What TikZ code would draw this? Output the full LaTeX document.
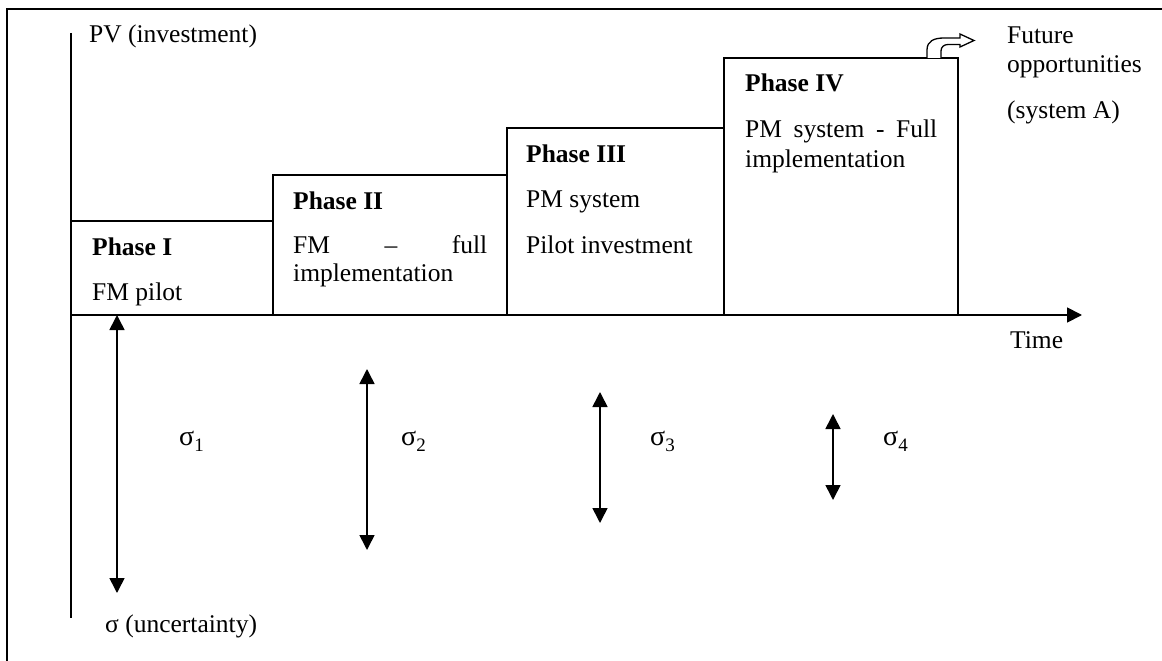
\documentclass[tikz,border=0pt]{standalone}
\usepackage{fontspec}
\setmainfont{Liberation Serif}
\usetikzlibrary{arrows.meta}
% sigma with a lowered index
\newcommand{\sigmalabel}[1]{σ\raisebox{-0.22em}{\fontsize{19}{19}\selectfont #1}}
\begin{document}
\begin{tikzpicture}[x=1pt,y=-1pt,
  txt/.style={anchor=base west, inner sep=0pt, font=\fontsize{25.5}{30}\selectfont},
  ttl/.style={anchor=base west, inner sep=0pt, font=\fontsize{25.5}{30}\selectfont\bfseries},
  sig/.style={anchor=base west, inner sep=0pt, font=\fontsize{28}{30}\selectfont},
  boxline/.style={draw, line width=1.8pt},
  axisline/.style={line width=1.8pt},
  sigarrow/.style={line width=1.6pt, {Triangle[length=15pt,width=15pt]}-{Triangle[length=15pt,width=15pt]}},
  timearrow/.style={line width=1.8pt, -{Triangle[length=15pt,width=15pt]}}
]
\useasboundingbox (0,0) rectangle (1162,661);

% outer frame (left and top edges)
\draw[line width=2pt] (7,661) -- (7,9) -- (988,9);
\draw[line width=1.2pt] (988,9) -- (1162,9);

% phase boxes, stepping upward
\draw[boxline] (71,315) rectangle (273,221);
\draw[boxline] (273,315) rectangle (507,175);
\draw[boxline] (507,315) rectangle (724,128);
\draw[boxline] (724,315) rectangle (958,58);

% axes
\coordinate (ytop) at (71,33);
\coordinate (ybot) at (71,618);
\coordinate (orig) at (71,315);
\coordinate (tend) at (1082,315);
\draw[axisline] (ytop) -- (ybot);
\draw[timearrow] (orig) -- (tend);

% axis labels
\node[txt] (pv) at (89,43) {PV (investment)};
\node[txt] (time) at (1010,348) {Time};
\node[txt] (unc) at (105,632) {σ (uncertainty)};

% phase texts
\node[ttl] (t1) at (92,255) {Phase I};
\node[txt] (d1) at (92,300) {FM pilot};

\node[ttl] (t2) at (293,209) {Phase II};
\node[txt] (d2a) at (293,253) {\makebox[194pt][s]{FM\hfill–\hfill full}};
\node[txt] (d2b) at (293,281) {implementation};

\node[ttl] (t3) at (526,162) {Phase III};
\node[txt] (d3a) at (526,207) {PM system};
\node[txt] (d3b) at (526,253) {Pilot investment};

\node[ttl] (t4) at (745,92) {Phase IV};
\node[txt] (d4a) at (745,137) {\makebox[192pt][s]{PM\hfill system\hfill -\hfill Full}};
\node[txt] (d4b) at (745,167) {implementation};

% future opportunities with its bent block arrow
\node[txt] (f1) at (1007,44) {Future};
\node[txt] (f2) at (1007,73) {opportunities};
\node[txt] (f3) at (1007,118) {(system A)};
\draw[line width=1.3pt, fill=white, line join=miter]
  (927,58) -- (927,50) .. controls (927,41) and (934,38) .. (944,38) -- (960,38)
  -- (960,34) -- (974,40.5) -- (960,47) -- (960,44.5) -- (948,44.5)
  .. controls (944,44.5) and (941,47) .. (941,51) -- (941,58);

% uncertainty ranges
\coordinate (s1a) at (117,315); \coordinate (s1b) at (117,593);
\coordinate (s2a) at (367,369); \coordinate (s2b) at (367,550);
\coordinate (s3a) at (600,392); \coordinate (s3b) at (600,523);
\coordinate (s4a) at (833,414); \coordinate (s4b) at (833,500);
\draw[sigarrow] (s1a) -- (s1b);
\draw[sigarrow] (s2a) -- (s2b);
\draw[sigarrow] (s3a) -- (s3b);
\draw[sigarrow] (s4a) -- (s4b);

\node[sig] (g1) at (179,445) {\sigmalabel{1}};
\node[sig] (g2) at (401,445) {\sigmalabel{2}};
\node[sig] (g3) at (650,445) {\sigmalabel{3}};
\node[sig] (g4) at (883,445) {\sigmalabel{4}};
\end{tikzpicture}
\end{document}
